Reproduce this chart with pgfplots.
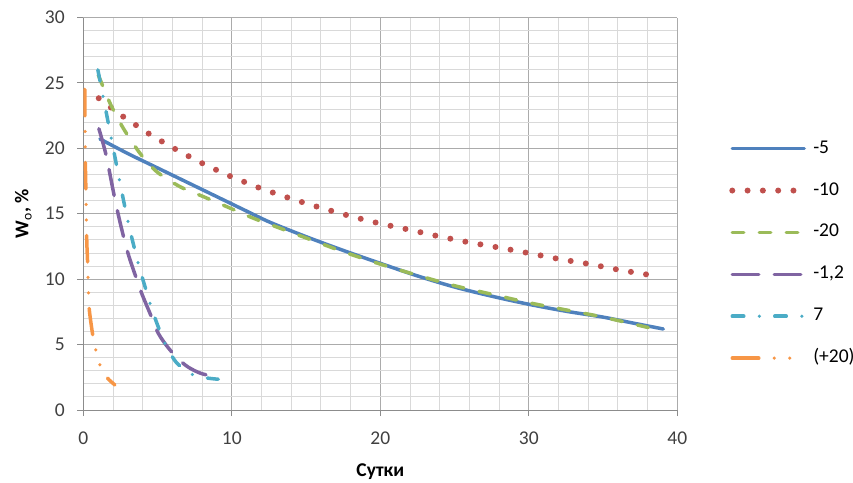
\documentclass[border=0pt]{standalone}
\usepackage{fontspec}
\setmainfont{Carlito}
\usepackage{pgfplots}
\pgfplotsset{compat=1.18}
\definecolor{cblue}{HTML}{4F81BD}
\definecolor{cred}{HTML}{C0504D}
\definecolor{cgreen}{HTML}{9BBB59}
\definecolor{cpurple}{HTML}{8064A2}
\definecolor{ccyan}{HTML}{4BACC6}
\definecolor{corange}{HTML}{F79646}
\definecolor{gridmaj}{HTML}{ABABAB}
\definecolor{gridmin}{HTML}{D9D9D9}
\definecolor{axisgray}{HTML}{8C8C8C}
\definecolor{ticktext}{HTML}{404040}
\newcommand{\ff}{\fontsize{19.5}{23}\selectfont}
\begin{document}
\begin{tikzpicture}
\useasboundingbox (0pt,0pt) rectangle (853pt,482pt);
\begin{axis}[
  at={(83.3pt,72pt)}, anchor=south west,
  scale only axis, width=594pt, height=392.5pt,
  xmin=0, xmax=40, ymin=0, ymax=30,
  xtick={0,10,20,30,40}, ytick={0,5,10,15,20,25,30},
  minor x tick num=4, minor y tick num=4,
  grid=both,
  major grid style={draw=gridmaj, line width=1pt},
  minor grid style={draw=gridmin, line width=1pt},
  axis lines=left,
  axis line style={-, draw=axisgray, line width=1pt},
  tick align=outside, major tick length=6pt, minor tick length=0pt,
  tick style={draw=axisgray, line width=1pt},
  /pgf/number format/assume math mode=true,
  tick label style={font=\ff, text=ticktext},
  xticklabel style={yshift=-12pt},
  yticklabel style={xshift=-9pt},
  xlabel={\textbf{Сутки}},
  ylabel={\textbf{W}\textsubscript{o}\textbf{, \%}},
  xlabel style={font=\ff, at={(axis description cs:0.5,-0.158)}, anchor=center},
  ylabel style={font=\ff, at={(axis description cs:-0.101,0.5)}, anchor=center},
  legend style={at={(axis description cs:1.0875,0.399)}, anchor=west,
    draw=none, fill=none, inner sep=0pt, outer sep=0pt, row sep=24.9pt,
    font=\ff, text=black,
    nodes={inner sep=0pt, text height=13pt, text depth=4pt},
    /tikz/every odd column/.append style={column sep=6pt}},
  legend cell align=left,
  legend image code/.code={\draw[#1] (0pt,0pt) -- (72pt,0pt);},
  every axis plot/.append style={line width=3.5pt, line cap=round, line join=round},
]
\addplot[cblue, smooth] coordinates {
(1.12,20.72) (3,19.6) (5,18.5) (7,17.4) (9,16.3) (11,15.2) (12.57,14.35) (15,13.25)
(17.5,12.2) (20,11.21) (22.5,10.25) (25,9.4) (27.5,8.7) (30,8.08) (32.5,7.55)
(35,7.1) (37,6.65) (39.06,6.19)};
\addlegendentry{-5}
\addplot[cred, smooth, line width=6pt, dash pattern=on 0pt off 15.3pt] coordinates {
(1.04,23.83) (1.87,23.11) (2.69,22.42) (3.55,21.77) (4.44,21.1) (5.32,20.51)
(6.22,19.93) (7.14,19.37) (8.06,18.83) (9.0,18.33) (9.95,17.84) (10.9,17.41)
(11.9,16.96) (13.87,16.2) (15.86,15.5) (17.82,14.87) (19.84,14.29) (21.86,13.8)
(23.88,13.29) (25.9,12.83) (27.96,12.42) (30,11.99) (32,11.55) (34.1,11.15)
(36.1,10.71) (38.1,10.33)};
\addlegendentry{-10}
\addplot[cgreen, smooth, dash pattern=on 11.5pt off 15.5pt] coordinates {
(1.01,25.61) (1.8,23.45) (2.69,21.54) (3.82,19.62) (4.94,18.22) (6.51,17.07)
(8.08,16.31) (9.66,15.54) (11.45,14.66) (13,14.0) (15,13.15) (17.5,12.1)
(20,11.15) (22.5,10.3) (25,9.5) (27.5,8.85) (30,8.2) (32.5,7.65) (35,7.1) (38.05,6.3)};
\addlegendentry{-20}
\addplot[cpurple, smooth, dash pattern=on 26.5pt off 15.5pt] coordinates {
(1.05,21.5) (1.53,19.5) (2.13,16.1) (2.6,13.75) (3.03,11.9) (3.5,10.3) (3.93,8.92)
(4.49,7.39) (5.05,5.86) (5.84,4.59) (6.86,3.44) (7.8,2.85) (8.75,2.55) (9.09,2.42)};
\addlegendentry{-1,2}
\addplot[ccyan, smooth, dash pattern=on 11.5pt off 15.5pt on 0pt off 15.5pt] coordinates {
(0.98,26.0) (1.5,23.0) (2.0,20.1) (2.5,17.2) (3.03,14.3) (3.7,11.2) (4.15,9.45)
(4.49,8.16) (4.9,6.8) (5.5,5.1) (6.29,3.6) (7.41,2.68) (8.3,2.45) (9.09,2.35)};
\addlegendentry{7}
\addplot[corange, smooth, dash pattern=on 26.5pt off 15.5pt on 0pt off 15.5pt on 0pt off 15.5pt] coordinates {
(0.1,24.5) (0.12,21.5) (0.14,18.8) (0.18,16.5) (0.23,13.1) (0.3,10.96) (0.36,8.66)
(0.42,7.5) (0.67,5.48) (0.9,4.33) (1.19,3.19) (1.5,2.6) (1.75,2.29) (2.13,1.91)};
\addlegendentry{(+20)}
\end{axis}
\end{tikzpicture}
\end{document}
